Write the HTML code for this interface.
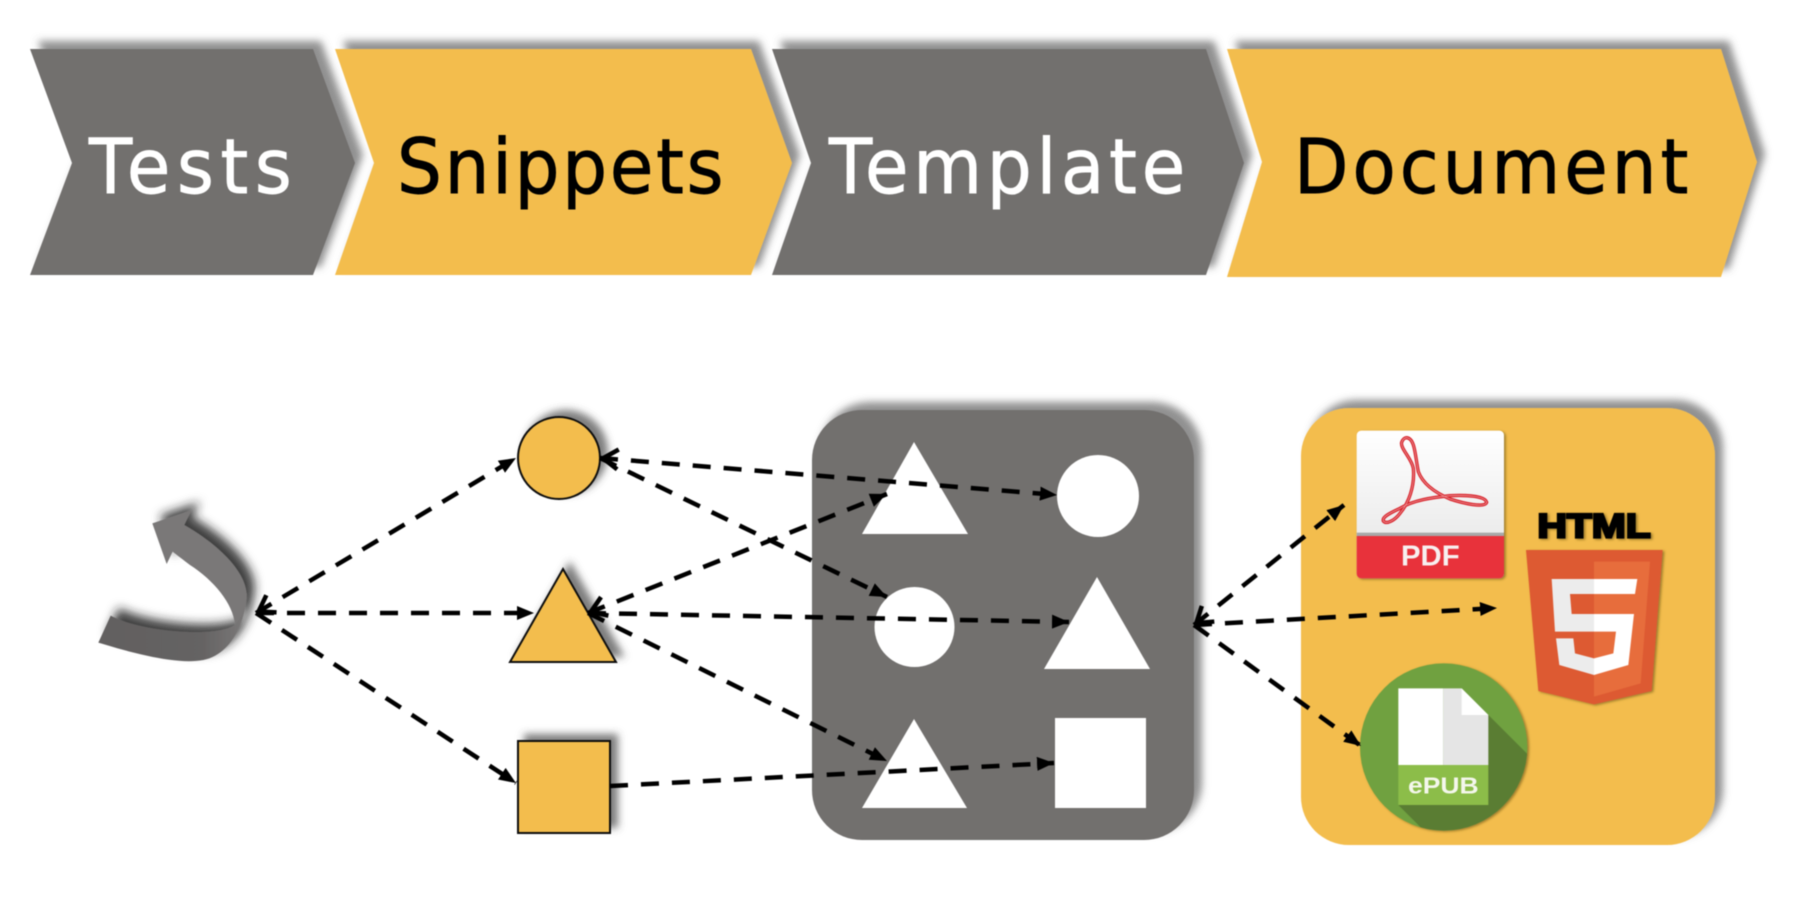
<!DOCTYPE html>
<html>
<head>
<meta charset="utf-8">
<style>
html,body{margin:0;padding:0;background:#fff;width:1796px;height:898px;overflow:hidden}
svg{display:block;filter:blur(.5px)}
</style>
</head>
<body>
<svg xmlns="http://www.w3.org/2000/svg" width="1796" height="898" viewBox="0 0 1796 898">
<defs>
<filter id="sh" x="-20%" y="-30%" width="140%" height="160%"><feDropShadow dx="8" dy="-8" stdDeviation="4" flood-color="#555" flood-opacity=".65"/></filter>
<filter id="shs" x="-30%" y="-30%" width="160%" height="160%"><feDropShadow dx="7" dy="-6" stdDeviation="4" flood-color="#444" flood-opacity=".7"/></filter>
<filter id="sha" x="-30%" y="-30%" width="160%" height="160%"><feDropShadow dx="24" dy="-24" stdDeviation="15" flood-color="#222" flood-opacity=".85"/></filter>
<filter id="ic" x="-20%" y="-20%" width="140%" height="140%"><feDropShadow dx="5" dy="3" stdDeviation="4" flood-color="#5f4c16" flood-opacity=".6"/></filter>
<linearGradient id="ag" x1="0" y1="0" x2="1" y2="0"><stop offset="0" stop-color="#626060"/><stop offset=".7" stop-color="#656363"/><stop offset="1" stop-color="#7b7979"/></linearGradient>
<linearGradient id="pdfg" x1="0" y1="0" x2="0" y2="1"><stop offset="0" stop-color="#fff"/><stop offset=".7" stop-color="#ececec"/><stop offset="1" stop-color="#cfcfcf"/></linearGradient>
<marker id="s" markerUnits="userSpaceOnUse" markerWidth="20" markerHeight="16" refX="17" refY="7" orient="auto"><path d="M0,0L17,7L0,14z" fill="#000"/></marker>
<marker id="o" markerUnits="userSpaceOnUse" markerWidth="24" markerHeight="28" refX="0" refY="14" orient="auto"><path d="M18,4L3,14L18,24" fill="none" stroke="#000" stroke-width="4.5"/></marker>
<clipPath id="cc"><circle cx="491" cy="1071" r="251"/></clipPath>
</defs>

<!-- chevrons -->
<g filter="url(#sh)"><polygon points="30,49 313,49 355,163 313,275 30,275 72,163" fill="#726f6e"/></g>
<g filter="url(#sh)"><polygon points="335,49 751,49 792,163 751,275 335,275 374,163" fill="#f3bd4e"/></g>
<g filter="url(#sh)"><polygon points="772,49 1206,49 1244,163 1206,275 772,275 811,163" fill="#726f6e"/></g>
<g filter="url(#sh)"><polygon points="1227,49 1721,49 1757,162 1721,277 1227,277 1262,162" fill="#f3bd4e"/></g>
<g font-family="'DejaVu Sans','Liberation Sans',sans-serif" font-size="76" stroke-width=".9">
<text transform="translate(89,193) scale(.93,1)" fill="#fff" stroke="#fff" textLength="218" lengthAdjust="spacing">Tests</text>
<text transform="translate(397,193) scale(.93,1)" fill="#000" stroke="#000" textLength="351" lengthAdjust="spacing">Snippets</text>
<text transform="translate(829,193) scale(.93,1)" fill="#fff" stroke="#fff" textLength="383" lengthAdjust="spacing">Template</text>
<text transform="translate(1294,193) scale(.93,1)" fill="#000" stroke="#000" textLength="424" lengthAdjust="spacing">Document</text>
</g>

<!-- curved arrow -->
<g filter="url(#sha)" transform="translate(90,490) scale(.33333)">
<path d="M435,405C372,445 150,425 62,377L25,458C130,490 260,525 340,510C420,495 468,400 470,310z" fill="url(#ag)"/>
<path d="M187,100L305,60L283,105C380,160 465,240 470,310C472,345 460,375 435,405C430,340 370,270 300,225C280,210 260,195 248,185L230,222z" fill="#7a7878"/>
</g>

<!-- source shapes -->
<g filter="url(#shs)"><ellipse cx="559" cy="458" rx="41" ry="41" fill="#f3bd4e" stroke="#111" stroke-width="2"/></g>
<g filter="url(#shs)"><polygon points="563,569 510,662 616,662" fill="#f3bd4e" stroke="#111" stroke-width="2"/></g>
<g filter="url(#shs)"><rect x="518" y="741" width="92" height="92" fill="#f3bd4e" stroke="#111" stroke-width="2"/></g>

<!-- template panel -->
<g filter="url(#sh)"><rect x="812" y="410" width="382" height="430" rx="50" fill="#726f6e"/></g>
<polygon points="914,442 862,534 968,534" fill="#fff"/>
<circle cx="1098" cy="496" r="41" fill="#fff"/>
<circle cx="914.5" cy="627" r="40" fill="#fff"/>
<polygon points="1097,577 1044,669 1150,669" fill="#fff"/>
<polygon points="914,719 862,808 967,808" fill="#fff"/>
<rect x="1055" y="718" width="91" height="90" fill="#fff"/>

<!-- document panel -->
<g filter="url(#sh)"><rect x="1301" y="408" width="414" height="437" rx="48" fill="#f3bd4e"/></g>

<g transform="translate(1280,390) scale(.33333)">
<!-- PDF -->
<g filter="url(#ic)">
<rect x="230" y="122" width="442" height="443" rx="14" fill="url(#pdfg)"/>
<path d="M230,438H672V551a14,14 0 0 1 -14,14H244a14,14 0 0 1 -14,-14z" fill="#e8323a"/>
</g>
<rect x="230" y="428" width="442" height="10" fill="#a8a8a8"/>
<text x="363" y="527" font-family="'Liberation Sans',sans-serif" font-size="86" font-weight="bold" fill="#f7f0f0" textLength="176" lengthAdjust="spacingAndGlyphs">PDF</text>

<!-- HTML5 -->
<text x="772" y="442" font-family="'Liberation Sans',sans-serif" font-size="102" font-weight="bold" fill="#000" stroke="#000" stroke-width="7" textLength="340" lengthAdjust="spacingAndGlyphs" filter="url(#ic)">HTML</text>
<g filter="url(#ic)"><polygon points="738,480 1148,480 1115,903 942,943 775,903" fill="#dd5a30"/></g>
<polygon points="942,515 1110,515 1082,880 942,920" fill="#e76d3c"/>
<polygon points="815,567 942,567 942,612 870,612 875,672 942,672 942,725 825,725" fill="#ececec"/>
<polygon points="828,745 880,745 885,790 942,805 942,855 838,825" fill="#ececec"/>
<polygon points="942,567 1072,567 1065,612 942,612" fill="#fff"/>
<polygon points="942,672 1062,672 1045,825 942,855 942,805 1000,790 1008,725 942,725" fill="#fff"/>

<!-- ePUB -->
<g filter="url(#ic)"><circle cx="491" cy="1071" r="251" fill="#70a13f"/></g>
<g clip-path="url(#cc)">
<polygon points="625,975 800,1150 800,1400 510,1400 355,1245" fill="#5a7d33"/>
</g>
<polygon points="355,895 490,895 490,1125 355,1125" fill="#fff"/>
<polygon points="490,895 545,895 625,975 625,1125 490,1125" fill="#e5e5e5"/>
<polygon points="545,895 625,975 545,975" fill="#fff"/>
<rect x="355" y="1125" width="270" height="120" fill="#8cbd49"/>
<text x="384" y="1210" font-family="'Liberation Sans',sans-serif" font-size="68" font-weight="bold" fill="#f4f7ec" textLength="212" lengthAdjust="spacingAndGlyphs">ePUB</text>
</g>

<!-- acrobat logo -->
<g transform="translate(1350,425) scale(.33333)" fill="none">
<path d="M170,38C195,40 195,90 205,140C220,180 260,205 300,222C340,235 405,250 410,232C405,212 345,210 300,212C250,217 190,225 150,250C125,262 95,275 100,288C110,300 135,285 150,265C175,235 195,185 190,130C185,100 150,70 155,52C158,42 165,38 170,38z" stroke="#d8242c" stroke-width="10"/>
<path d="M170,38C195,40 195,90 205,140C220,180 260,205 300,222C340,235 405,250 410,232C405,212 345,210 300,212C250,217 190,225 150,250C125,262 95,275 100,288C110,300 135,285 150,265C175,235 195,185 190,130C185,100 150,70 155,52C158,42 165,38 170,38z" stroke="#f6c9c9" stroke-width="2.5" opacity=".7"/>
</g>

<!-- connectors -->
<g fill="none" stroke="#000" stroke-width="4.5" stroke-dasharray="18 13">
<line x1="256" y1="613" x2="516" y2="458" marker-start="url(#o)" marker-end="url(#s)"/>
<line x1="256" y1="613" x2="534" y2="613" marker-end="url(#s)"/>
<line x1="256" y1="613" x2="516" y2="783" marker-end="url(#s)"/>
<line x1="600" y1="458" x2="1057" y2="495" marker-start="url(#o)" marker-end="url(#s)"/>
<line x1="600" y1="458" x2="887" y2="597" marker-end="url(#s)"/>
<line x1="588" y1="613" x2="887" y2="494" marker-start="url(#o)" marker-end="url(#s)"/>
<line x1="588" y1="613" x2="1069" y2="622" marker-end="url(#s)"/>
<line x1="588" y1="613" x2="887" y2="761" marker-end="url(#s)"/>
<line x1="610" y1="786" x2="1054" y2="763" marker-end="url(#s)"/>
<line x1="1194" y1="625" x2="1344" y2="505" marker-start="url(#o)" marker-end="url(#s)"/>
<line x1="1194" y1="625" x2="1497" y2="608" marker-end="url(#s)"/>
<line x1="1194" y1="625" x2="1361" y2="746" marker-end="url(#s)"/>
</g>
</svg>
</body>
</html>
